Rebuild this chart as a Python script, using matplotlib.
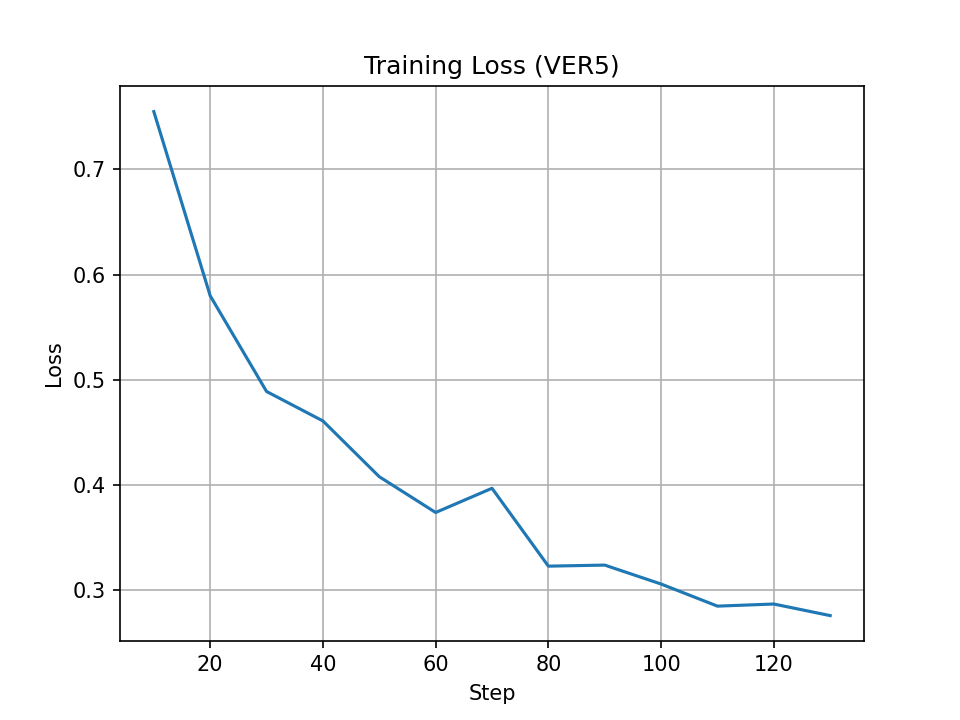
import matplotlib
matplotlib.use('Agg')
import matplotlib.pyplot as plt

steps = [10, 20, 30, 40, 50, 60, 70, 80, 90, 100, 110, 120, 130]
loss = [0.755, 0.580, 0.489, 0.461, 0.408, 0.374, 0.397, 0.323, 0.324, 0.306, 0.285, 0.287, 0.276]

fig, ax = plt.subplots(figsize=(6.4, 4.8))
ax.plot(steps, loss)
ax.set_xlabel("Step")
ax.set_ylabel("Loss")
ax.set_title("Training Loss (VER5)")
ax.grid(True)

fig.savefig("out.png", dpi=150)
plt.close(fig)
